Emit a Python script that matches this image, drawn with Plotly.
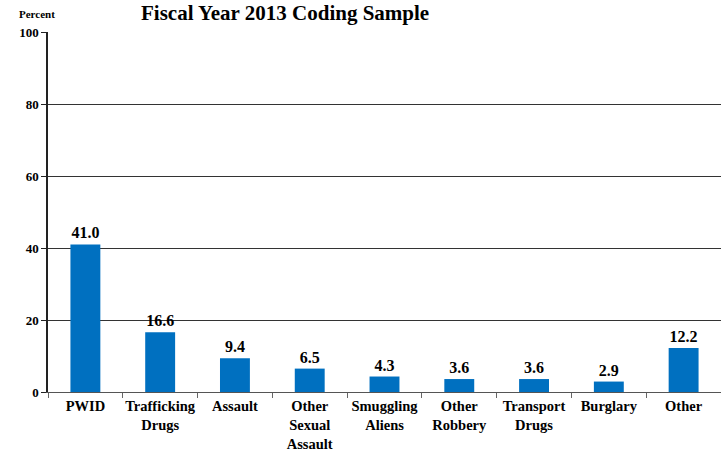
import plotly.graph_objects as go

categories = ["PWID", "Trafficking<br>Drugs", "Assault", "Other<br>Sexual<br>Assault",
              "Smuggling<br>Aliens", "Other<br>Robbery", "Transport<br>Drugs", "Burglary", "Other"]
percent = [41.0, 16.6, 9.4, 6.5, 4.3, 3.6, 3.6, 2.9, 12.2]
y_ticks = [0, 20, 40, 60, 80, 100]

FONT = "Liberation Serif"

fig = go.Figure(go.Bar(
    x=categories,
    y=percent,
    marker=dict(color="#0070C0", line=dict(width=0)),
    width=0.4,
    text=[f"<b>{v:.1f}</b>" for v in percent],
    textposition="outside",
    textfont=dict(family=FONT, size=16, color="black"),
    cliponaxis=False,
))

fig.update_layout(
    width=721, height=453,
    margin=dict(l=48, r=0, t=32, b=61),
    paper_bgcolor="white", plot_bgcolor="white",
    showlegend=False,
    bargap=0.6,
    font=dict(family=FONT, color="black"),
    xaxis=dict(
        tickson="boundaries", ticks="outside", ticklen=5, tickcolor="#666",
        showline=True, linecolor="#555", linewidth=1,
        tickfont=dict(family=FONT, size=14.5, color="black"),
        tickprefix="<b>", ticksuffix="</b>",
        tickangle=0, automargin=False,
        ticklabelstandoff=1,
        showgrid=False,
    ),
    yaxis=dict(
        range=[0, 100], tickvals=y_ticks,
        ticktext=[f"<b>{v}</b>" for v in y_ticks],
        ticks="outside", ticklen=5, tickcolor="#222",
        showline=True, linecolor="#222", linewidth=1.5,
        showgrid=True, gridcolor="#333", gridwidth=1,
        tickfont=dict(family=FONT, size=13, color="black"),
        zeroline=False, automargin=False,
    ),
    annotations=[
        dict(text="<b>Fiscal Year 2013 Coding Sample</b>", x=285, y=13,
             xref="paper", yref="paper", showarrow=False,
             font=dict(family=FONT, size=21, color="black")),
        dict(text="<b>Percent</b>", x=37, y=14, xref="paper", yref="paper",
             showarrow=False, font=dict(family=FONT, size=11, color="black")),
    ],
)

# Place the title/axis caption in pixel terms relative to the page
W, H = 721, 453
pw = W - 48
ph = H - 32 - 61
for a in fig.layout.annotations:
    px, py = a.x, a.y
    a.x = (px - 48) / pw
    a.y = (H - 61 - py) / ph
    a.xanchor = "center"
    a.yanchor = "middle"

fig.write_html("out.html")
